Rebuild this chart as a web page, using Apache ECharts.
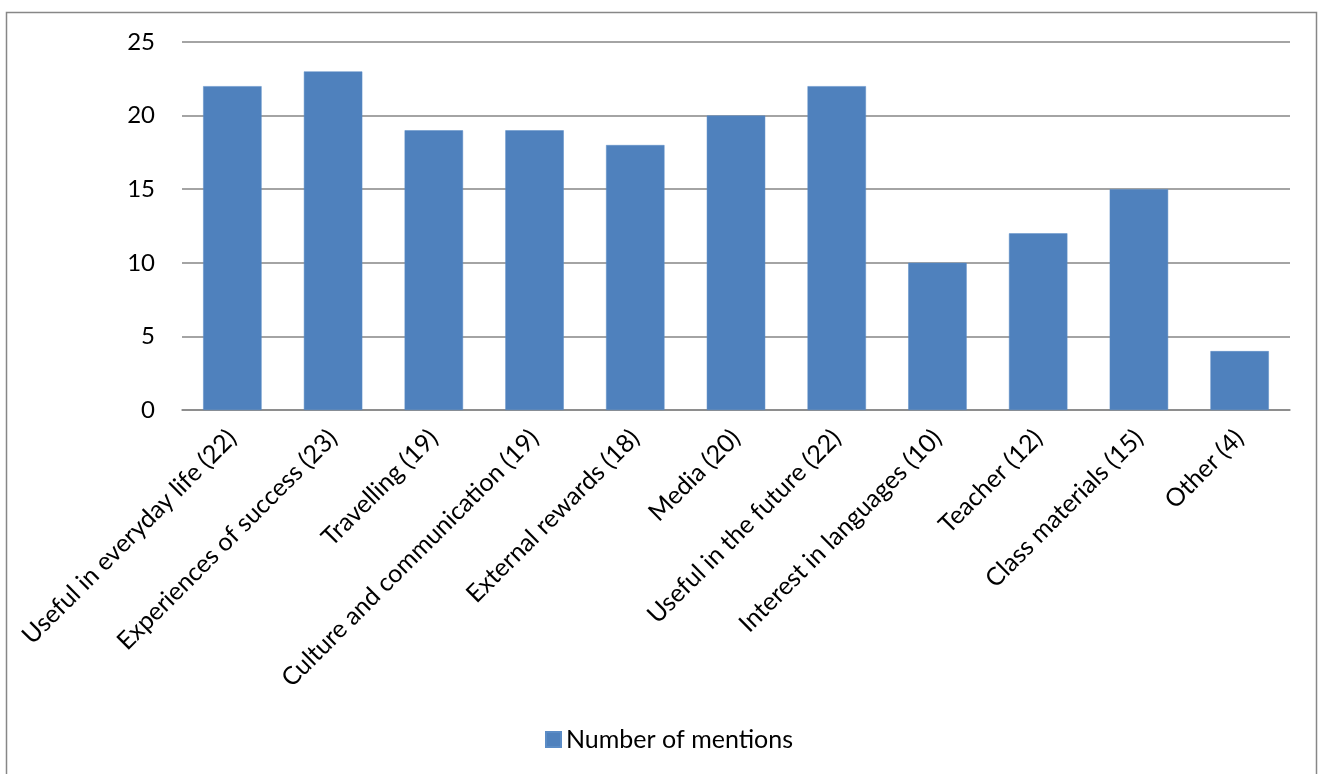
<!DOCTYPE html>
<html>
<head>
<meta charset="utf-8">
<script src="https://cdn.jsdelivr.net/npm/echarts@6/dist/echarts.min.js"></script>
<style>
  html, body { margin: 0; padding: 0; background: #fff; }
  #chart { width: 1323px; height: 774px; }
</style>
</head>
<body>
<div id="chart"></div>
<script>
// Reasons mentioned for motivation, with counts
const categories = [
  'Useful in everyday life (22)',
  'Experiences of success (23)',
  'Travelling (19)',
  'Culture and communication (19)',
  'External rewards (18)',
  'Media (20)',
  'Useful in the future (22)',
  'Interest in languages (10)',
  'Teacher (12)',
  'Class materials (15)',
  'Other (4)'
];
const mentions = [22, 23, 19, 19, 18, 20, 22, 10, 12, 15, 4];
const seriesName = 'Number of mentions';

const FONT = 'Lato, "Noto Sans", sans-serif';

const chart = echarts.init(document.getElementById('chart'), null, { renderer: 'canvas' });
chart.setOption({
  animation: false,
  backgroundColor: '#fff',
  textStyle: { fontFamily: FONT },
  graphic: [{
    type: 'rect',
    shape: { x: 6.5, y: 12.5, width: 1310, height: 800 },
    style: { fill: 'none', stroke: '#878787', lineWidth: 1.5 },
    silent: true
  }],
  grid: { left: 182, right: 33, top: 42, height: 368, containLabel: false },
  legend: {
    data: [seriesName],
    top: 722,
    left: 540,
    itemWidth: 15,
    itemHeight: 15,
    itemGap: 7,
    icon: 'rect',
    textStyle: { fontSize: 25, color: '#000', fontFamily: FONT }
  },
  xAxis: {
    type: 'category',
    data: categories,
    axisTick: { show: false },
    axisLine: { lineStyle: { color: '#868686', width: 1.5 } },
    axisLabel: {
      rotate: 45,
      interval: 0,
      fontSize: 25,
      color: '#000',
      margin: 24,
      fontFamily: FONT
    }
  },
  yAxis: {
    type: 'value',
    min: 0,
    max: 25,
    interval: 5,
    axisLine: { show: false },
    axisTick: { show: false },
    splitLine: { lineStyle: { color: '#868686', width: 1.5 } },
    axisLabel: { fontSize: 24, color: '#000', margin: 27, fontFamily: FONT }
  },
  series: [{
    name: seriesName,
    type: 'bar',
    data: mentions,
    barWidth: '58%',
    itemStyle: { color: '#4F81BD', borderColor: '#5B8CC6', borderWidth: 0.5 }
  }]
});
</script>
</body>
</html>
